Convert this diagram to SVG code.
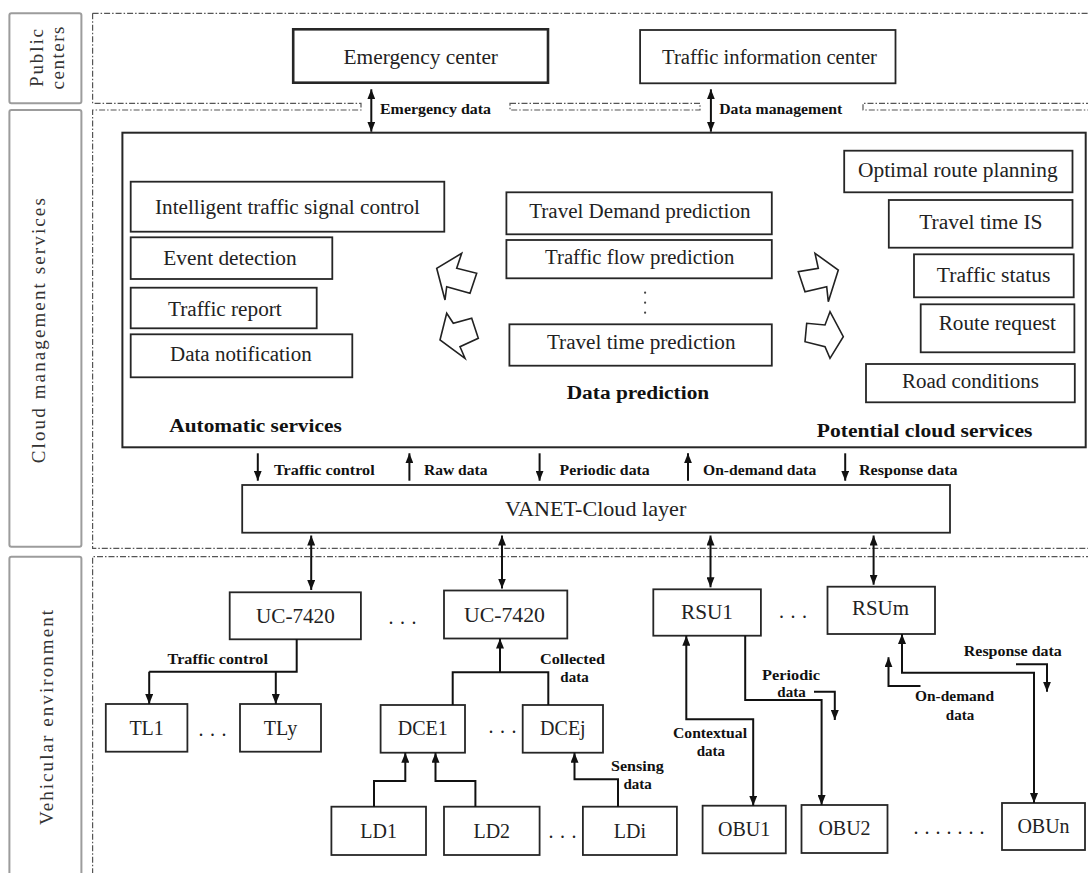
<svg xmlns="http://www.w3.org/2000/svg" width="1088" height="873" viewBox="0 0 1088 873">
<defs>
<marker id="ah" viewBox="0 0 10 8" refX="10" refY="4" markerWidth="10" markerHeight="8" markerUnits="userSpaceOnUse" orient="auto-start-reverse"><path d="M0,0 L10,4 L0,8 z" fill="#111"/></marker>
<style>
text{font-family:"Liberation Serif","Times New Roman",serif;fill:#222}
.n{font-size:20px}
.c{text-anchor:middle}
.b{font-weight:bold;font-size:15px;fill:#111}
.h{font-weight:bold;font-size:18px;fill:#111}
.side{font-size:19px;fill:#333;text-anchor:middle}
.box{fill:#fff;stroke:#262626;stroke-width:1.8}
.lab{fill:#fff;stroke:#9c9c9c;stroke-width:2}
.dash{fill:none;stroke:#555;stroke-width:1.2;stroke-dasharray:6 2 1.5 2}
.ln{fill:none;stroke:#111;stroke-width:2}
.ar{fill:none;stroke:#111;stroke-width:2;marker-end:url(#ah)}
.ar2{fill:none;stroke:#111;stroke-width:2;marker-start:url(#ah);marker-end:url(#ah)}
.blk{fill:#fff;stroke:#222;stroke-width:1.6;stroke-linejoin:miter}
.dots{font-size:20px;letter-spacing:6.5px}
</style>
</defs>
<rect width="1088" height="873" fill="#fff"/>

<g id="regions">
<path class="dash" d="M92.6,13.3 H1092 M92.6,13.3 V103.3 H361 V110 H92.6 V548.3 H1092 M1092,103.3 H863 V110 H1092 M1092,556.7 H92.6 V880"/>
<rect class="dash" x="510" y="103.3" width="190" height="6.7"/>
</g>

<g id="side-labels">
<g id="lbl-public"><rect class="lab" x="9.4" y="13.3" width="72" height="90" rx="2"/>
<text class="side" transform="translate(43,58) rotate(-90)" textLength="58" lengthAdjust="spacing">Public</text>
<text class="side" transform="translate(64,58) rotate(-90)" textLength="63" lengthAdjust="spacing">centers</text></g>
<g id="lbl-cloud"><rect class="lab" x="9.4" y="110" width="72" height="436.7" rx="2"/>
<text class="side" transform="translate(45,330.7) rotate(-90)" textLength="265" lengthAdjust="spacing">Cloud management services</text></g>
<g id="lbl-vehicular"><rect class="lab" x="9.4" y="556.7" width="72" height="330" rx="2"/>
<text class="side" transform="translate(53,717.5) rotate(-90)" textLength="215" lengthAdjust="spacing">Vehicular environment</text></g>
</g>

<g id="emergency-center"><rect class="box" x="293.2" y="29.3" width="254.8" height="53.4" style="stroke-width:2.6"/>
<text class="n" x="343.5" y="64" textLength="154.5" lengthAdjust="spacingAndGlyphs">Emergency center</text></g>
<g id="traffic-information-center"><rect class="box" x="640.1" y="30" width="255.4" height="53.3"/>
<text class="n" x="662" y="64" textLength="215" lengthAdjust="spacingAndGlyphs">Traffic information center</text></g>

<g id="cloud-services"><rect class="box" x="122.4" y="132.7" width="963.3" height="314.6" style="stroke-width:2"/>
<text class="h" x="169.3" y="431.5" textLength="172.4" lengthAdjust="spacingAndGlyphs">Automatic services</text>
<text class="h" x="566.7" y="399" textLength="142.5" lengthAdjust="spacingAndGlyphs">Data prediction</text>
<text class="h" x="816.8" y="437" textLength="215.6" lengthAdjust="spacingAndGlyphs">Potential cloud services</text></g>

<g id="intelligent-traffic-signal-control"><rect class="box" x="130.7" y="181.7" width="313.6" height="50"/>
<text class="n" x="155" y="213.5" textLength="265" lengthAdjust="spacingAndGlyphs">Intelligent traffic signal control</text></g>
<g id="event-detection"><rect class="box" x="130.7" y="237.3" width="201.6" height="41.7"/>
<text class="n" x="163.3" y="265" textLength="133.4" lengthAdjust="spacingAndGlyphs">Event detection</text></g>
<g id="traffic-report"><rect class="box" x="130.7" y="287.7" width="186" height="40.6"/>
<text class="n" x="168" y="316" textLength="113.7" lengthAdjust="spacingAndGlyphs">Traffic report</text></g>
<g id="data-notification"><rect class="box" x="130.7" y="334.3" width="221.6" height="43"/>
<text class="n" x="170" y="361" textLength="141.7" lengthAdjust="spacingAndGlyphs">Data notification</text></g>

<g id="travel-demand-prediction"><rect class="box" x="506.4" y="192.3" width="265.4" height="42"/>
<text class="n" x="529.2" y="218" textLength="221.3" lengthAdjust="spacingAndGlyphs">Travel Demand prediction</text></g>
<g id="traffic-flow-prediction"><rect class="box" x="506.4" y="240" width="265.4" height="38.3"/>
<text class="n" x="545" y="264" textLength="189.3" lengthAdjust="spacingAndGlyphs">Traffic flow prediction</text></g>
<g id="prediction-dots"><circle cx="645.1" cy="292.7" r="1.1" fill="#444"/><circle cx="645.1" cy="302.7" r="1.1" fill="#444"/><circle cx="645.1" cy="312.7" r="1.1" fill="#444"/></g>
<g id="travel-time-prediction"><rect class="box" x="509.4" y="324.3" width="262.4" height="41.4"/>
<text class="n" x="546.9" y="349" textLength="188.6" lengthAdjust="spacingAndGlyphs">Travel time prediction</text></g>

<g id="optimal-route-planning"><rect class="box" x="844.2" y="150.7" width="228.3" height="41.6"/>
<text class="n" x="858" y="176.5" textLength="199.6" lengthAdjust="spacingAndGlyphs">Optimal route planning</text></g>
<g id="travel-time-is"><rect class="box" x="888.8" y="200" width="183.7" height="47.7"/>
<text class="n" x="919.2" y="228.5" textLength="123.4" lengthAdjust="spacingAndGlyphs">Travel time IS</text></g>
<g id="traffic-status"><rect class="box" x="914" y="254.3" width="159.7" height="43"/>
<text class="n" x="936.8" y="282" textLength="113.6" lengthAdjust="spacingAndGlyphs">Traffic status</text></g>
<g id="route-request"><rect class="box" x="920.7" y="304.3" width="153.7" height="48"/>
<text class="n" x="938.7" y="330" textLength="117.3" lengthAdjust="spacingAndGlyphs">Route request</text></g>
<g id="road-conditions"><rect class="box" x="866" y="364" width="208.8" height="38.3"/>
<text class="n" x="902" y="388" textLength="136.8" lengthAdjust="spacingAndGlyphs">Road conditions</text></g>

<g id="flow-arrows">
<polygon class="blk" points="461.7,253.3 456.7,268.3 476.7,273.3 470,293.3 446.7,286.7 445,300 436.7,268.3"/>
<polygon class="blk" points="446.7,313.3 453.3,323.3 471.7,318.3 478.3,338.3 460,346.7 465,358.3 440,340"/>
<polygon class="blk" points="815,253.3 818.3,268.3 798.3,271.7 805,291.7 826.7,286.7 828.3,301.7 838.3,270"/>
<polygon class="blk" points="830,311.7 825,325 806.7,323.3 805,341.7 825,346.7 830,358.3 843.3,336.7"/>
</g>

<g id="vanet-cloud-layer"><rect class="box" x="242.2" y="485" width="707.8" height="47.7"/>
<text class="n" x="504.9" y="516" style="font-size:21px" textLength="181.4" lengthAdjust="spacingAndGlyphs">VANET-Cloud layer</text></g>

<g id="uc-7420-1"><rect class="box" x="229.7" y="592.3" width="131.2" height="47"/>
<text class="n" x="256" y="623" textLength="78.8" lengthAdjust="spacingAndGlyphs">UC-7420</text></g>
<g id="uc-7420-2"><rect class="box" x="444" y="590.5" width="123.3" height="48"/>
<text class="n" x="464" y="622" textLength="81" lengthAdjust="spacingAndGlyphs">UC-7420</text></g>
<g id="rsu1"><rect class="box" x="653.3" y="589.3" width="107.6" height="46.4"/>
<text class="n" x="681" y="618.5" textLength="52" lengthAdjust="spacingAndGlyphs">RSU1</text></g>
<g id="rsum"><rect class="box" x="827.5" y="586.7" width="107.5" height="47.3"/>
<text class="n" x="852" y="615" textLength="57" lengthAdjust="spacingAndGlyphs">RSUm</text></g>

<g id="tl1"><rect class="box" x="105.8" y="704" width="81.6" height="47.7"/><text class="n c" x="146.6" y="734.5">TL1</text></g>
<g id="tly"><rect class="box" x="240" y="704" width="81" height="47.7"/><text class="n c" x="280.5" y="734.5">TLy</text></g>
<g id="dce1"><rect class="box" x="380.6" y="705" width="84.4" height="47.7"/><text class="n c" x="422.8" y="735">DCE1</text></g>
<g id="dcej"><rect class="box" x="522.7" y="705" width="80.3" height="47.7"/><text class="n c" x="562.9" y="735">DCEj</text></g>
<g id="ld1"><rect class="box" x="331.4" y="806.7" width="94.6" height="48.3"/><text class="n c" x="378.7" y="837.5">LD1</text></g>
<g id="ld2"><rect class="box" x="444" y="806.7" width="95.6" height="48.3"/><text class="n c" x="491.8" y="837.5">LD2</text></g>
<g id="ldi"><rect class="box" x="582.9" y="806.7" width="94" height="48.3"/><text class="n c" x="629.9" y="838">LDi</text></g>
<g id="obu1"><rect class="box" x="702.6" y="805.7" width="83.2" height="47.6"/><text class="n c" x="744.2" y="836">OBU1</text></g>
<g id="obu2"><rect class="box" x="801.5" y="805" width="86" height="48"/><text class="n c" x="844.5" y="834.5">OBU2</text></g>
<g id="obun"><rect class="box" x="1002" y="803" width="83" height="47"/><text class="n c" x="1043.5" y="833">OBUn</text></g>

<g id="ellipses">
<text class="dots" x="388.5" y="624">...</text>
<text class="dots" x="198.5" y="736">...</text>
<text class="dots" x="488.5" y="733">...</text>
<text class="dots" x="548.5" y="838">...</text>
<text class="dots" x="779" y="618">...</text>
<text class="dots" x="913.5" y="834" style="letter-spacing:6px">.......</text>
</g>

<g id="connectors">
<path class="ar2" d="M371.3,89.3 V131.7"/>
<path class="ar2" d="M710.9,89.3 V131.7"/>
<path class="ar" d="M257.8,453.3 V480.7"/>
<path class="ar" d="M409.4,480.7 V453.3"/>
<path class="ar" d="M539.6,453.3 V480.7"/>
<path class="ar" d="M688,480.7 V453.3"/>
<path class="ar" d="M845.2,453.3 V480.7"/>
<path class="ar2" d="M311.2,535.5 V590"/>
<path class="ar2" d="M502,535.5 V588.5"/>
<path class="ar2" d="M710.5,535.5 V587.3"/>
<path class="ar2" d="M873.6,535.5 V584.7"/>
<path class="ln" d="M296.7,639.3 V671.7 H149.2"/>
<path class="ar" d="M149.2,671.7 V704"/>
<path class="ar" d="M275.8,671.7 V704"/>
<path class="ln" d="M452.7,705 V672.3 H548.3 V705"/>
<path class="ar" d="M500,672.3 V638.5"/>
<path class="ar" d="M374,806.7 V781 H405.3 V752.7"/>
<path class="ar" d="M475.4,806.7 V781 H435.5 V752.7"/>
<path class="ar" d="M618,806.7 V779.3 H574.5 V752.7"/>
<path class="ar2" d="M686.3,635.7 V719.3 H753.2 V805.7"/>
<path class="ar" d="M745.2,635.7 V700 H821.6 V805"/>
<path class="ar" d="M814,691.7 H834.8 V720"/>
<path class="ar2" d="M902,634 V672.7 H1034 V803"/>
<path class="ar" d="M920.5,686 H888.5 V657.3"/>
<path class="ar" d="M1016,664.3 H1047 V691.7"/>
</g>

<g id="connector-labels">
<text class="b" x="380" y="114" textLength="111" lengthAdjust="spacingAndGlyphs">Emergency data</text>
<text class="b" x="719.2" y="114" textLength="123" lengthAdjust="spacingAndGlyphs">Data management</text>
<text class="b" x="274" y="475" textLength="100.7" lengthAdjust="spacingAndGlyphs">Traffic control</text>
<text class="b" x="424" y="475" textLength="63.5" lengthAdjust="spacingAndGlyphs">Raw data</text>
<text class="b" x="559.6" y="475" textLength="90.2" lengthAdjust="spacingAndGlyphs">Periodic data</text>
<text class="b" x="703" y="475" textLength="113.4" lengthAdjust="spacingAndGlyphs">On-demand data</text>
<text class="b" x="859" y="475" textLength="98.6" lengthAdjust="spacingAndGlyphs">Response data</text>
<text class="b" x="167.6" y="664" textLength="100.3" lengthAdjust="spacingAndGlyphs">Traffic control</text>
<text class="b" x="540" y="664" textLength="65" lengthAdjust="spacingAndGlyphs">Collected</text>
<text class="b c" x="574.5" y="682">data</text>
<text class="b" x="762" y="680" textLength="58" lengthAdjust="spacingAndGlyphs">Periodic</text>
<text class="b c" x="791.5" y="697">data</text>
<text class="b" x="673" y="738" textLength="74" lengthAdjust="spacingAndGlyphs">Contextual</text>
<text class="b c" x="710.9" y="756">data</text>
<text class="b" x="611" y="771" textLength="52.7" lengthAdjust="spacingAndGlyphs">Sensing</text>
<text class="b c" x="637.7" y="789">data</text>
<text class="b" x="915" y="701" textLength="79" lengthAdjust="spacingAndGlyphs">On-demand</text>
<text class="b c" x="960" y="720">data</text>
<text class="b" x="963.8" y="656" textLength="98" lengthAdjust="spacingAndGlyphs">Response data</text>
</g>
</svg>
